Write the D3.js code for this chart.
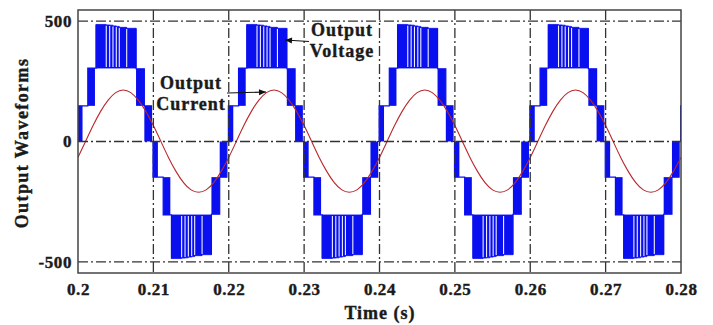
<!DOCTYPE html>
<html>
<head>
<meta charset="utf-8">
<script src="https://cdn.jsdelivr.net/npm/d3@7"></script>
<style>
  body { margin: 0; background: #fff; }
  svg text { font-family: "Liberation Serif", "Times New Roman", serif; font-weight: bold; fill: #1a1a1a; stroke: #1a1a1a; stroke-width: 0.4px; }
</style>
</head>
<body>
<div id="chart"></div>
<script>
// axis ticks
const timeTicks = [0.2, 0.21, 0.22, 0.23, 0.24, 0.25, 0.26, 0.27, 0.28];
const waveTicks = [500, 0, -500];

// output current, one sample per ms from 0.200 s to 0.280 s
const currentStart = 0.2;
const currentStep = 0.001;
const currentVals = [
  -66, 0, 66, 125, 172, 203, 214, 203, 172, 125, 66, 0, -66, -124, -171, -201, -211, -201, -171, -124,
  -66, 0, 66, 125, 172, 203, 214, 203, 172, 125, 66, 0, -66, -124, -171, -201, -211, -201, -171, -124,
  -66, 0, 66, 125, 172, 203, 214, 203, 172, 125, 66, 0, -66, -124, -171, -201, -211, -201, -171, -124,
  -66, 0, 66, 125, 172, 203, 214, 203, 172, 125, 66, 0, -66, -124, -171, -201, -211, -201, -171, -124,
  -66
];

// output voltage, one half-cycle (positive polarity), times in ms from start of half-cycle
// staircase outline [ms, volts] (lower steps only, the top level is drawn by the pulses)
const stairRise = [[-0.05, 0], [-0.05, 148], [1.3, 148], [1.3, 305], [2.4, 305], [2.4, 486]];
const stairFall = [[7.7, 470], [7.7, 302], [8.8, 302], [8.8, 148], [9.75, 148], [9.75, 0], [10, 0]];
// PWM switching between two levels: [start ms, end ms, low V, high V]
const pwmBlocks = [
  [-0.05, 0.6, 0, 148],
  [1.3, 2.25, 148, 305],
  [7.7, 8.8, 148, 302],
  [8.8, 9.75, 0, 148]
];
// top level pulses: [start ms, end ms, peak V], they sit on topBase
const topBase = 305;
const topPulses = [
  [2.4, 3.75, 486], [3.75, 4.2, 484], [4.2, 4.64, 483], [4.64, 5.08, 480],
  [5.08, 5.48, 478], [5.48, 6.46, 474], [6.46, 7.7, 470]
];
const halfCycleStarts = [0.2, 0.21, 0.22, 0.23, 0.24, 0.25, 0.26, 0.27, 0.28];

const margin = { top: 10, right: 32, bottom: 52, left: 78 };
const width = 713 - margin.left - margin.right;
const height = 325 - margin.top - margin.bottom;

const x = d3.scaleLinear().domain([0.2, 0.28]).range([0, width]);
const y = d3.scaleLinear().domain([-546, 546]).range([height, 0]);

const svg = d3.select("#chart")
  .append("svg")
  .attr("width", 713)
  .attr("height", 325);

svg.append("defs").append("clipPath")
  .attr("id", "clip")
  .append("rect")
  .attr("width", width)
  .attr("height", height);

const g = svg.append("g")
  .attr("transform", `translate(${margin.left}, ${margin.top})`);

const plot = g.append("g").attr("clip-path", "url(#clip)");

const blue = "#0a0ff0";

// voltage, half-cycle by half-cycle
halfCycleStarts.forEach((t0, i) => {
  const sgn = i % 2 === 0 ? 1 : -1;
  const tx = ms => x(t0 + ms / 1000);
  const hc = plot.append("g").attr("class", "half");
  const stair = d3.line().x(d => tx(d[0])).y(d => y(sgn * d[1]));

  [stairRise, stairFall].forEach(s => {
    hc.append("path")
      .datum(s)
      .attr("fill", "none")
      .attr("stroke", blue)
      .attr("stroke-width", 1.2)
      .attr("d", stair);
  });

  hc.selectAll(".pwm")
    .data(pwmBlocks)
    .enter()
    .append("rect")
    .attr("x", d => tx(d[0]))
    .attr("width", d => tx(d[1]) - tx(d[0]))
    .attr("y", d => Math.min(y(sgn * d[2]), y(sgn * d[3])))
    .attr("height", d => Math.abs(y(d[2]) - y(d[3])))
    .attr("fill", blue);

  // top level as one outline so no seams appear between pulses
  const top = [[topPulses[0][0], topBase]];
  topPulses.forEach(d => { top.push([d[0], d[2]], [d[1], d[2]]); });
  top.push([topPulses[topPulses.length - 1][1], topBase]);
  hc.append("path")
    .datum(top)
    .attr("fill", blue)
    .attr("stroke", blue)
    .attr("stroke-width", 0.8)
    .attr("d", d => stair(d) + "Z");

  // white notches where the top level drops back for a moment
  hc.selectAll(".notch")
    .data(topPulses.slice(1))
    .enter()
    .append("line")
    .attr("x1", d => tx(d[0])).attr("x2", d => tx(d[0]))
    .attr("y1", y(sgn * (topBase + 4)))
    .attr("y2", d => y(sgn * (d[2] - 3)))
    .attr("stroke", "#eef0ff")
    .attr("stroke-width", 1.1);
});

// grid lines (dash-dot)
const gridStyle = sel => sel
  .attr("stroke", "#333")
  .attr("stroke-width", 1.3)
  .attr("stroke-dasharray", "10,3,2,3");

g.append("g")
  .selectAll("line")
  .data(timeTicks.slice(1, -1))
  .enter()
  .append("line")
  .attr("x1", d => x(d)).attr("x2", d => x(d))
  .attr("y1", 0).attr("y2", height)
  .call(gridStyle);

g.append("g")
  .selectAll("line")
  .data(waveTicks)
  .enter()
  .append("line")
  .attr("x1", 0).attr("x2", width)
  .attr("y1", d => y(d)).attr("y2", d => y(d))
  .call(gridStyle);

// current
const current = currentVals.map((v, i) => ({ t: currentStart + i * currentStep, v }));
plot.append("path")
  .datum(current)
  .attr("fill", "none")
  .attr("stroke", "#b8282c")
  .attr("stroke-width", 1.1)
  .attr("d", d3.line().curve(d3.curveNatural).x(d => x(d.t)).y(d => y(d.v)));

// frame
g.append("rect")
  .attr("width", width)
  .attr("height", height)
  .attr("fill", "none")
  .attr("stroke", "#444")
  .attr("stroke-width", 1.5);

// axes
const xAxis = d3.axisBottom(x)
  .tickValues(timeTicks)
  .tickSize(0)
  .tickPadding(10)
  .tickFormat(d => String(+d.toFixed(2)));

const yAxis = d3.axisLeft(y)
  .tickValues(waveTicks)
  .tickSize(0)
  .tickPadding(6)
  .tickFormat(d => String(d));

g.append("g")
  .attr("transform", `translate(0, ${height})`)
  .call(xAxis)
  .call(a => a.select(".domain").remove())
  .selectAll("text")
  .attr("font-size", 17)
  .attr("letter-spacing", 0.6);

g.append("g")
  .call(yAxis)
  .call(a => a.select(".domain").remove())
  .selectAll("text")
  .attr("font-size", 17)
  .attr("letter-spacing", 0.6);

svg.selectAll(".tick text").attr("font-family", null);

// titles
svg.append("text")
  .attr("x", 380)
  .attr("y", 319)
  .attr("text-anchor", "middle")
  .attr("font-size", 18)
  .attr("letter-spacing", 1)
  .text("Time (s)");

svg.append("text")
  .attr("transform", "translate(28, 143) rotate(-90)")
  .attr("text-anchor", "middle")
  .attr("font-size", 18)
  .attr("letter-spacing", 1.4)
  .text("Output Waveforms");

// annotations
const label = (cx, lines, y0) => {
  lines.forEach((s, i) => {
    svg.append("text")
      .attr("x", cx)
      .attr("y", y0 + i * 21)
      .attr("text-anchor", "middle")
      .attr("font-size", 18)
      .attr("letter-spacing", 1)
      .text(s);
  });
};
label(191, ["Output", "Current"], 89);
label(342, ["Output", "Voltage"], 36);

const arrow = (x1, y1, x2, y2) => {
  svg.append("line")
    .attr("x1", x1).attr("y1", y1).attr("x2", x2).attr("y2", y2)
    .attr("stroke", "#111").attr("stroke-width", 1.2);
  const a = Math.atan2(y2 - y1, x2 - x1), L = 7, W = 3;
  const p = [
    [x2, y2],
    [x2 - L * Math.cos(a) + W * Math.sin(a), y2 - L * Math.sin(a) - W * Math.cos(a)],
    [x2 - L * Math.cos(a) - W * Math.sin(a), y2 - L * Math.sin(a) + W * Math.cos(a)]
  ];
  svg.append("path").attr("d", "M" + p.join("L") + "Z").attr("fill", "#111");
};
arrow(227, 93, 266, 92);
arrow(309, 41.5, 285, 40);
</script>
</body>
</html>
